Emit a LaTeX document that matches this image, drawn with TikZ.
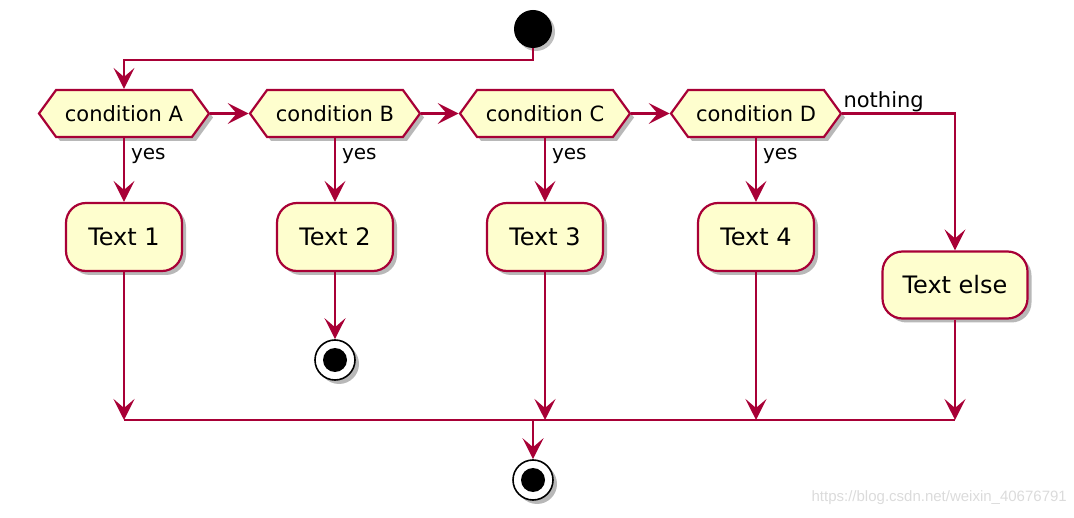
\documentclass[tikz,border=0pt]{standalone}
\usepackage{fontspec}
\setmainfont{DejaVu Sans}
\newfontfamily\wmfont{Liberation Sans}
\usetikzlibrary{shapes.symbols,shadows,arrows.meta}
\definecolor{umlred}{HTML}{A80036}
\definecolor{umlfill}{HTML}{FEFECE}
\tikzset{
  umlshadow/.style={drop shadow={shadow xshift=4pt,shadow yshift=-4pt,opacity=0.28,fill=black}},
  cond/.style={signal, signal to=west and east, signal pointer angle=108,
    draw=umlred, fill=umlfill, line width=2.2pt, minimum width=170pt, minimum height=47pt,
    inner xsep=0pt, font=\fontsize{21}{24}\selectfont, umlshadow},
  act/.style={rectangle, rounded corners=20pt, draw=umlred, fill=umlfill, line width=2.2pt,
    minimum width=116pt, minimum height=68pt, font=\fontsize{24}{26}\selectfont, umlshadow},
  startnode/.style={circle, fill=black, minimum size=38pt, inner sep=0pt,
    drop shadow={shadow xshift=3pt,shadow yshift=-3pt,opacity=0.25,fill=black}},
  stopnode/.style={circle, draw=black, fill=white, line width=1.6pt, minimum size=40pt, inner sep=0pt,
    umlshadow, path picture={\fill[black] (path picture bounding box.center) circle[radius=12pt];}},
  flow/.style={draw=umlred, line width=2.2pt, -{Stealth[length=21pt,width=21pt,inset=9pt]}},
  plain/.style={draw=umlred, line width=2.2pt},
  lbl/.style={font=\fontsize{20}{23}\selectfont, inner sep=1pt},
  yeslbl/.style={lbl, pos=0.13, anchor=north west, xshift=5pt}
}
\begin{document}
\begin{tikzpicture}[x=1pt,y=-1pt]
\useasboundingbox (0,0) rectangle (1074,518);
\node[startnode] (start) at (533,29) {};
\node[cond] (A) at (124,113.5) {condition A};
\node[cond] (B) at (335,113.5) {condition B};
\node[cond] (C) at (545,113.5) {condition C};
\node[cond] (D) at (756,113.5) {condition D};
\node[act] (T1) at (124,237) {Text 1};
\node[act] (T2) at (335,237) {Text 2};
\node[act] (T3) at (545,237) {Text 3};
\node[act] (T4) at (756,237) {Text 4};
\node[act, minimum width=145pt, minimum height=67pt] (TE) at (955,285) {Text else};
\node[stopnode] (S2) at (335,360) {};
\node[stopnode] (S) at (533,480) {};
\coordinate (top1) at (533,60);
\coordinate (top2) at (124,60);
\coordinate (m1) at (124,420);
\coordinate (m3) at (545,420);
\coordinate (m4) at (756,420);
\coordinate (m5) at (955,420);
\coordinate (mo) at (533,420);
\coordinate (dr) at (955,113.5);

\draw[flow] (start.south) -- (top1) -- (top2) -- (A.north);
\draw[flow] (A.east) -- (B.west);
\draw[flow] (B.east) -- (C.west);
\draw[flow] (C.east) -- (D.west);
\draw[flow] (A.south) -- node[yeslbl]{yes} (T1.north);
\draw[flow] (B.south) -- node[yeslbl]{yes} (T2.north);
\draw[flow] (C.south) -- node[yeslbl]{yes} (T3.north);
\draw[flow] (D.south) -- node[yeslbl]{yes} (T4.north);
\draw[flow] (D.east) -- (dr) -- (TE.north);
\node[lbl, font=\fontsize{21}{23}\selectfont, anchor=south west] (nothing) at (D.east) {nothing};
\draw[flow] (T2.south) -- (S2.north);
\draw[flow] (T1.south) -- (m1);
\draw[flow] (T3.south) -- (m3);
\draw[flow] (T4.south) -- (m4);
\draw[flow] (TE.south) -- (m5);
\draw[plain] (m1) -- (m5);
\draw[flow] (mo) -- (S.north);
\node[anchor=east, text=black!14, font=\wmfont\fontsize{15}{17}\selectfont, inner sep=0pt] (wm) at (1067,498) {https://blog.csdn.net/weixin\_40676791};
\end{tikzpicture}
\end{document}
